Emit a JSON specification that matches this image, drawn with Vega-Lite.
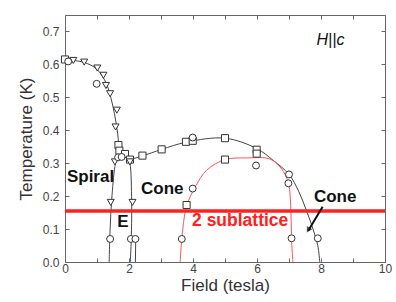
{
  "$schema": "https://vega.github.io/schema/vega-lite/v6.json",
  "width": 320,
  "height": 247,
  "autosize": {"type": "none"},
  "padding": {"left": 65, "top": 15, "right": 11, "bottom": 40},
  "background": "white",
  "config": {
    "view": {"stroke": null},
    "font": "Liberation Sans",
    "axis": {
      "grid": false,
      "domainColor": "#666666",
      "tickColor": "#666666",
      "labelColor": "#444444",
      "titleColor": "#333333",
      "labelFont": "Liberation Sans",
      "titleFont": "Liberation Sans",
      "labelFontSize": 12,
      "titleFontSize": 17,
      "titleFontWeight": "normal",
      "tickSize": -4,
      "domainWidth": 1,
      "tickWidth": 1
    }
  },
  "datasets": {
    "lines": [
      {"s": "A", "o": 1, "x": 0.0, "y": 0.615},
      {"s": "A", "o": 2, "x": 0.6, "y": 0.606},
      {"s": "A", "o": 3, "x": 1.0, "y": 0.585},
      {"s": "A", "o": 4, "x": 1.3, "y": 0.54},
      {"s": "A", "o": 5, "x": 1.48, "y": 0.48},
      {"s": "A", "o": 6, "x": 1.6, "y": 0.42},
      {"s": "A", "o": 7, "x": 1.67, "y": 0.36},
      {"s": "A", "o": 8, "x": 1.63, "y": 0.32},
      {"s": "A", "o": 9, "x": 1.56, "y": 0.29},
      {"s": "A", "o": 10, "x": 1.46, "y": 0.19},
      {"s": "A", "o": 11, "x": 1.41, "y": 0.1},
      {"s": "A", "o": 12, "x": 1.38, "y": 0.0},
      {"s": "B", "o": 1, "x": 1.67, "y": 0.355},
      {"s": "B", "o": 2, "x": 1.85, "y": 0.33},
      {"s": "B", "o": 3, "x": 2.0, "y": 0.31},
      {"s": "B", "o": 4, "x": 2.08, "y": 0.2},
      {"s": "B", "o": 5, "x": 2.07, "y": 0.07},
      {"s": "B", "o": 6, "x": 2.04, "y": 0.0},
      {"s": "C", "o": 1, "x": 2.21, "y": 0.07},
      {"s": "C", "o": 2, "x": 2.2, "y": 0.0},
      {"s": "D", "o": 1, "x": 2.0, "y": 0.31},
      {"s": "D", "o": 2, "x": 2.42, "y": 0.322},
      {"s": "D", "o": 3, "x": 3.02, "y": 0.342},
      {"s": "D", "o": 4, "x": 3.8, "y": 0.364},
      {"s": "D", "o": 5, "x": 5.0, "y": 0.376},
      {"s": "D", "o": 6, "x": 6.0, "y": 0.344},
      {"s": "D", "o": 7, "x": 6.5, "y": 0.309},
      {"s": "D", "o": 8, "x": 7.0, "y": 0.266},
      {"s": "D", "o": 9, "x": 7.3, "y": 0.215},
      {"s": "D", "o": 10, "x": 7.55, "y": 0.155},
      {"s": "D", "o": 11, "x": 7.75, "y": 0.1},
      {"s": "D", "o": 12, "x": 7.9, "y": 0.05},
      {"s": "D", "o": 13, "x": 7.96, "y": 0.0}
    ],
    "redline": [
      {"o": 1, "x": 3.6, "y": 0.0},
      {"o": 2, "x": 3.65, "y": 0.07},
      {"o": 3, "x": 3.8, "y": 0.17},
      {"o": 4, "x": 4.1, "y": 0.233},
      {"o": 5, "x": 4.43, "y": 0.279},
      {"o": 6, "x": 5.0, "y": 0.311},
      {"o": 7, "x": 5.7, "y": 0.316},
      {"o": 8, "x": 6.4, "y": 0.313},
      {"o": 9, "x": 6.75, "y": 0.285},
      {"o": 10, "x": 6.98, "y": 0.24},
      {"o": 11, "x": 7.06, "y": 0.15},
      {"o": 12, "x": 7.08, "y": 0.07},
      {"o": 13, "x": 7.12, "y": 0.0}
    ],
    "points": [
      {"m": "square", "x": 0.0, "y": 0.615},
      {"m": "square", "x": 1.67, "y": 0.355},
      {"m": "square", "x": 1.7, "y": 0.338},
      {"m": "square", "x": 1.875, "y": 0.328},
      {"m": "square", "x": 2.03, "y": 0.311},
      {"m": "square", "x": 2.42, "y": 0.323},
      {"m": "square", "x": 3.02, "y": 0.342},
      {"m": "square", "x": 3.78, "y": 0.365},
      {"m": "square", "x": 3.99, "y": 0.368},
      {"m": "square", "x": 5.0, "y": 0.376},
      {"m": "square", "x": 5.99, "y": 0.341},
      {"m": "square", "x": 5.99, "y": 0.329},
      {"m": "square", "x": 5.0, "y": 0.311},
      {"m": "square", "x": 3.8, "y": 0.173},
      {"m": "triangle-down", "x": 0.26, "y": 0.612},
      {"m": "triangle-down", "x": 0.6, "y": 0.607},
      {"m": "triangle-down", "x": 1.01, "y": 0.589},
      {"m": "triangle-down", "x": 1.2, "y": 0.567},
      {"m": "triangle-down", "x": 1.28, "y": 0.536},
      {"m": "triangle-down", "x": 1.41, "y": 0.511},
      {"m": "triangle-down", "x": 1.62, "y": 0.461},
      {"m": "triangle-down", "x": 1.58, "y": 0.41},
      {"m": "triangle-down", "x": 1.56, "y": 0.304},
      {"m": "triangle-down", "x": 2.03, "y": 0.304},
      {"m": "triangle-down", "x": 1.43, "y": 0.181},
      {"m": "triangle-down", "x": 2.11, "y": 0.181},
      {"m": "circle", "x": 0.1, "y": 0.609},
      {"m": "circle", "x": 0.99, "y": 0.541},
      {"m": "circle", "x": 1.66, "y": 0.318},
      {"m": "circle", "x": 1.77, "y": 0.319},
      {"m": "circle", "x": 3.99, "y": 0.378},
      {"m": "circle", "x": 5.97, "y": 0.293},
      {"m": "circle", "x": 7.0, "y": 0.266},
      {"m": "circle", "x": 6.98, "y": 0.239},
      {"m": "circle", "x": 3.99, "y": 0.223},
      {"m": "circle", "x": 1.41, "y": 0.07},
      {"m": "circle", "x": 2.06, "y": 0.07},
      {"m": "circle", "x": 2.2, "y": 0.07},
      {"m": "circle", "x": 3.65, "y": 0.07},
      {"m": "circle", "x": 7.08, "y": 0.072},
      {"m": "circle", "x": 7.9, "y": 0.072}
    ],
    "blacklabels": [
      {"label": "Spiral", "x": 0.06, "y": 0.259},
      {"label": "Cone", "x": 2.375, "y": 0.223},
      {"label": "E", "x": 1.63, "y": 0.12},
      {"label": "Cone", "x": 7.78, "y": 0.198}
    ],
    "redlabels": [
      {"label": "2 sublattice", "x": 3.97, "y": 0.123}
    ],
    "hc": [
      {"label": "H||c", "x": 7.86, "y": 0.673}
    ],
    "sub": [
      {"y": 0.155}
    ],
    "arrow": [
      {"o": 1, "x": 8.05, "y": 0.168},
      {"o": 2, "x": 7.6, "y": 0.095}
    ],
    "arrowhead": [
      {"x": 7.6, "y": 0.097}
    ]
  },
  "resolve": {"axis": {"x": "independent", "y": "independent"}},
  "layer": [
    {
      "data": {"name": "lines"},
      "mark": {"type": "line", "interpolate": "catmull-rom", "color": "#444444", "strokeWidth": 1},
      "encoding": {
        "x": {"field": "x", "type": "quantitative", "scale": {"domain": [0, 10], "nice": false},
          "axis": {"orient": "bottom", "title": "Field (tesla)", "values": [0, 1, 2, 3, 4, 5, 6, 7, 8, 9, 10],
            "labelExpr": "datum.value % 2 == 0 ? datum.label : ''", "labelPadding": 5, "titlePadding": 3, "labelFlush": false}},
        "y": {"field": "y", "type": "quantitative", "scale": {"domain": [0, 0.75], "nice": false, "zero": false},
          "axis": {"orient": "left", "title": "Temperature (K)", "values": [0, 0.1, 0.2, 0.3, 0.4, 0.5, 0.6, 0.7],
            "format": ".1f", "labelPadding": 10, "titlePadding": 7}},
        "detail": {"field": "s"},
        "order": {"field": "o", "type": "quantitative"}
      }
    },
    {
      "data": {"name": "redline"},
      "mark": {"type": "line", "interpolate": "catmull-rom", "color": "#ff5555", "strokeWidth": 1},
      "encoding": {
        "x": {"field": "x", "type": "quantitative",
          "axis": {"orient": "top", "title": null, "labels": false, "values": [0, 1, 2, 3, 4, 5, 6, 7, 8, 9, 10]}},
        "y": {"field": "y", "type": "quantitative",
          "axis": {"orient": "right", "title": null, "labels": false, "values": [0, 0.1, 0.2, 0.3, 0.4, 0.5, 0.6, 0.7]}},
        "order": {"field": "o", "type": "quantitative"}
      }
    },
    {
      "data": {"name": "points"},
      "mark": {"type": "point", "filled": false, "fill": "white", "fillOpacity": 1, "stroke": "#333333", "strokeWidth": 1, "opacity": 1},
      "encoding": {
        "x": {"field": "x", "type": "quantitative", "axis": null},
        "y": {"field": "y", "type": "quantitative", "axis": null},
        "shape": {"field": "m", "type": "nominal", "legend": null,
          "scale": {"domain": ["square", "triangle-down", "circle"], "range": ["square", "triangle-down", "circle"]}},
        "size": {"field": "m", "type": "nominal", "legend": null,
          "scale": {"domain": ["square", "triangle-down", "circle"], "range": [50, 48, 58]}}
      }
    },
    {
      "data": {"name": "sub"},
      "mark": {"type": "rule", "color": "#ff2020", "strokeWidth": 3.5},
      "encoding": {
        "y": {"field": "y", "type": "quantitative", "axis": null}
      }
    },
    {
      "data": {"name": "arrow"},
      "mark": {"type": "line", "color": "#111111", "strokeWidth": 2},
      "encoding": {
        "x": {"field": "x", "type": "quantitative", "axis": null},
        "y": {"field": "y", "type": "quantitative", "axis": null},
        "order": {"field": "o", "type": "quantitative"}
      }
    },
    {
      "data": {"name": "arrowhead"},
      "mark": {"type": "point", "shape": "triangle-down", "filled": true, "color": "#111111", "size": 40, "angle": 31},
      "encoding": {
        "x": {"field": "x", "type": "quantitative", "axis": null},
        "y": {"field": "y", "type": "quantitative", "axis": null}
      }
    },
    {
      "data": {"name": "blacklabels"},
      "mark": {"type": "text", "align": "left", "baseline": "middle", "fontWeight": "bold", "fontSize": 17, "color": "#111111", "font": "Liberation Sans"},
      "encoding": {
        "x": {"field": "x", "type": "quantitative", "axis": null},
        "y": {"field": "y", "type": "quantitative", "axis": null},
        "text": {"field": "label"}
      }
    },
    {
      "data": {"name": "redlabels"},
      "mark": {"type": "text", "align": "left", "baseline": "middle", "fontWeight": "bold", "fontSize": 17.5, "color": "#ff2020", "font": "Liberation Sans"},
      "encoding": {
        "x": {"field": "x", "type": "quantitative", "axis": null},
        "y": {"field": "y", "type": "quantitative", "axis": null},
        "text": {"field": "label"}
      }
    },
    {
      "data": {"name": "hc"},
      "mark": {"type": "text", "align": "left", "baseline": "middle", "fontStyle": "italic", "fontSize": 16, "color": "#111111", "font": "Liberation Sans"},
      "encoding": {
        "x": {"field": "x", "type": "quantitative", "axis": null},
        "y": {"field": "y", "type": "quantitative", "axis": null},
        "text": {"field": "label"}
      }
    }
  ]
}
